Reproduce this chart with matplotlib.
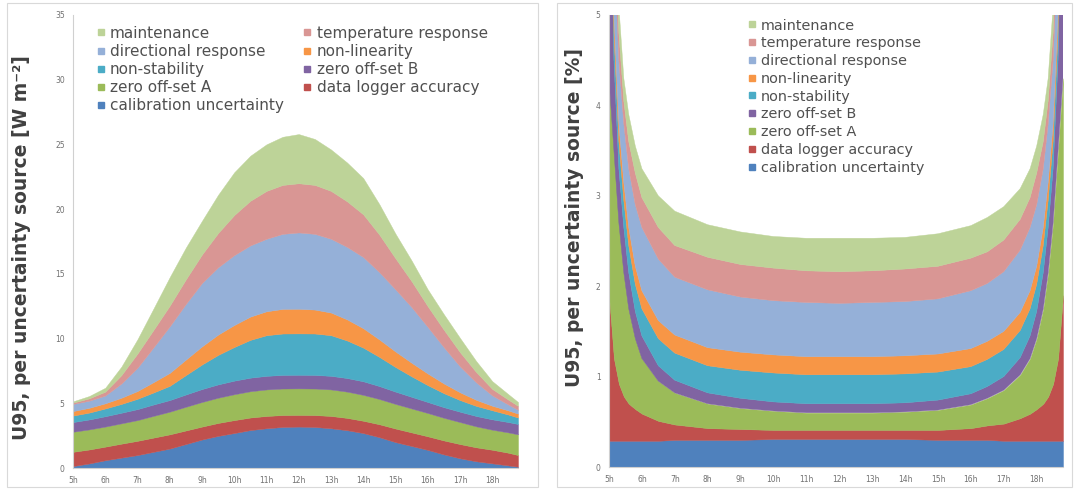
import matplotlib
matplotlib.use("Agg")
import matplotlib.pyplot as plt
from matplotlib.lines import Line2D
from matplotlib.patches import Rectangle

#--------------------------------------------------------------------------------------------------------
# data: stacked layer thickness per uncertainty source

sources = ['calibration uncertainty', 'data logger accuracy', 'zero off-set A', 'zero off-set B',
           'non-stability', 'non-linearity', 'directional response', 'temperature response', 'maintenance']
colors = ['#4F81BD', '#C0504D', '#9BBB59', '#8064A2', '#4BACC6', '#F79646', '#95B0D8', '#D99694', '#BDD398']

hour_labels = ['5h', '6h', '7h', '8h', '9h', '10h', '11h', '12h', '13h', '14h', '15h', '16h', '17h', '18h']

# left panel: W m-2 (every half hour)
hours_abs = [5, 5.5, 6, 6.5, 7, 7.5, 8, 8.5, 9, 9.5, 10, 10.5, 11, 11.5, 12, 12.5, 13, 13.5,
             14, 14.5, 15, 15.5, 16, 16.5, 17, 17.5, 18, 18.5, 18.8]
abs_calib = [0.15, 0.35, 0.6, 0.8, 1.0, 1.25, 1.5, 1.85, 2.2, 2.48, 2.7, 2.93, 3.07, 3.17, 3.2, 3.17, 3.07, 2.92,
             2.7, 2.38, 2.0, 1.7, 1.4, 1.05, 0.75, 0.52, 0.36, 0.2, 0.1]
abs_logger = [1.1, 1.08, 1.05, 1.08, 1.1, 1.1, 1.1, 1.05, 1.0, 1.0, 1.0, 0.97, 0.95, 0.92, 0.9, 0.92, 0.95, 0.95,
              0.95, 1.0, 1.05, 1.05, 1.05, 1.08, 1.1, 1.08, 1.05, 0.98, 0.9]
abs_zeroA = [1.55, 1.55, 1.55, 1.57, 1.6, 1.68, 1.75, 1.83, 1.9, 1.95, 2.0, 2.03, 2.05, 2.05, 2.05, 2.05, 2.05, 2.03,
             2.0, 1.95, 1.9, 1.85, 1.8, 1.75, 1.7, 1.62, 1.55, 1.57, 1.6]
abs_zeroB = [0.75, 0.77, 0.8, 0.82, 0.85, 0.88, 0.9, 0.95, 1.0, 1.03, 1.05, 1.05, 1.05, 1.05, 1.05, 1.05, 1.05, 1.05,
             1.05, 1.0, 0.95, 0.9, 0.85, 0.82, 0.8, 0.8, 0.8, 0.8, 0.8]
abs_nonstab = [0.5, 0.53, 0.6, 0.68, 0.8, 0.93, 1.1, 1.5, 1.9, 2.28, 2.6, 2.92, 3.14, 3.2, 3.2, 3.2, 3.14, 2.9,
               2.6, 2.25, 1.9, 1.58, 1.3, 1.08, 0.9, 0.78, 0.7, 0.58, 0.5]
abs_nonlin = [0.35, 0.37, 0.4, 0.48, 0.6, 0.8, 1.0, 1.2, 1.4, 1.57, 1.7, 1.8, 1.85, 1.9, 1.9, 1.85, 1.75, 1.63,
              1.5, 1.35, 1.2, 1.05, 0.9, 0.75, 0.6, 0.47, 0.35, 0.32, 0.3]
abs_dir = [0.55, 0.55, 0.6, 1.1, 1.8, 2.7, 3.6, 4.3, 4.9, 5.2, 5.4, 5.5, 5.6, 5.8, 5.9, 5.85, 5.7, 5.6,
           5.5, 5.2, 4.8, 4.3, 3.6, 2.8, 2.0, 1.35, 0.8, 0.45, 0.3]
abs_temp = [0.1, 0.18, 0.3, 0.65, 1.1, 1.35, 1.6, 1.9, 2.2, 2.65, 3.1, 3.45, 3.7, 3.78, 3.8, 3.78, 3.7, 3.52,
            3.3, 2.9, 2.4, 2.0, 1.6, 1.35, 1.1, 0.8, 0.5, 0.38, 0.3]
abs_maint = [0.1, 0.18, 0.3, 0.65, 1.1, 1.65, 2.2, 2.45, 2.6, 2.95, 3.3, 3.48, 3.6, 3.72, 3.8, 3.55, 3.2, 3.0,
             2.8, 2.35, 1.9, 1.6, 1.3, 1.2, 1.1, 0.85, 0.6, 0.42, 0.3]

# right panel: % (denser near sunrise and sunset)
hours_rel = [5.0, 5.15, 5.3, 5.45, 5.6, 5.8, 6.0, 6.5, 7, 8, 9, 10, 11, 12,
             13, 14, 15, 16, 16.5, 17, 17.5, 17.8, 18.0, 18.2, 18.35, 18.5, 18.65, 18.8]
rel_calib = [0.29, 0.29, 0.29, 0.29, 0.29, 0.29, 0.29, 0.29, 0.30, 0.30, 0.30, 0.31, 0.31, 0.31,
             0.31, 0.31, 0.30, 0.30, 0.30, 0.29, 0.29, 0.29, 0.29, 0.29, 0.29, 0.29, 0.29, 0.29]
rel_logger = [1.61, 0.91, 0.63, 0.49, 0.41, 0.35, 0.30, 0.22, 0.17, 0.13, 0.12, 0.10, 0.10, 0.10,
              0.10, 0.10, 0.11, 0.13, 0.16, 0.19, 0.25, 0.30, 0.35, 0.41, 0.49, 0.63, 0.91, 1.61]
rel_zeroA = [2.4, 2.3, 1.78, 1.37, 1.05, 0.78, 0.61, 0.44, 0.35, 0.27, 0.23, 0.21, 0.19, 0.19,
             0.19, 0.20, 0.22, 0.26, 0.30, 0.37, 0.48, 0.61, 0.78, 1.05, 1.37, 1.78, 2.3, 2.4]
rel_zeroB = [3.0, 1.0, 0.6, 0.5, 0.4, 0.3, 0.25, 0.17, 0.14, 0.12, 0.11, 0.10, 0.10, 0.10,
             0.10, 0.10, 0.11, 0.12, 0.13, 0.15, 0.19, 0.25, 0.3, 0.4, 0.5, 0.6, 1.0, 3.0]
rel_nonstab = [0.4, 0.3, 0.3, 0.3, 0.3, 0.3, 0.3, 0.3, 0.3, 0.3, 0.31, 0.32, 0.32, 0.32,
               0.32, 0.32, 0.31, 0.30, 0.30, 0.30, 0.30, 0.3, 0.3, 0.3, 0.3, 0.3, 0.3, 0.4]
rel_nonlin = [0.3, 0.2, 0.2, 0.2, 0.2, 0.2, 0.2, 0.2, 0.2, 0.2, 0.2, 0.2, 0.2, 0.2,
              0.2, 0.2, 0.2, 0.2, 0.2, 0.2, 0.2, 0.2, 0.2, 0.2, 0.2, 0.2, 0.2, 0.3]
rel_dir = [1.0, 0.8, 0.7, 0.65, 0.65, 0.68, 0.7, 0.68, 0.64, 0.64, 0.61, 0.60, 0.60, 0.59,
           0.60, 0.60, 0.61, 0.64, 0.64, 0.66, 0.69, 0.7, 0.68, 0.65, 0.65, 0.7, 0.8, 1.0]
rel_temp = [0.5, 0.4, 0.3, 0.25, 0.3, 0.35, 0.33, 0.35, 0.35, 0.36, 0.36, 0.36, 0.35, 0.35,
            0.35, 0.36, 0.36, 0.36, 0.35, 0.35, 0.34, 0.33, 0.35, 0.3, 0.25, 0.3, 0.4, 0.5]
rel_maint = [0.5, 0.3, 0.3, 0.25, 0.3, 0.3, 0.32, 0.35, 0.38, 0.36, 0.36, 0.35, 0.36, 0.37,
             0.36, 0.35, 0.36, 0.36, 0.38, 0.37, 0.34, 0.32, 0.3, 0.3, 0.25, 0.3, 0.3, 0.5]

#--------------------------------------------------------------------------------------------------------

def drawPanel(ax, hours, layers, ymax, ystep, ylabel, labelPos):
    ax.stackplot(hours, layers, colors=colors, linewidth=0.3, edgecolor='face')
    ax.set_xlim(5, 18.8)
    ax.set_ylim(0, ymax)
    ax.set_xticks(range(5, 19))
    ax.set_xticklabels(hour_labels)
    ax.set_yticks(range(0, ymax + 1, ystep))
    ax.tick_params(length=0, labelsize=5.5, colors='#707070', pad=6)
    for side in ['top', 'right']:
        ax.spines[side].set_visible(False)
    for side in ['left', 'bottom']:
        ax.spines[side].set_color('#d0d0d0')
        ax.spines[side].set_linewidth(0.8)
    ax.set_ylabel(ylabel, fontsize=13.5, fontweight='bold', color='#404040')
    ax.yaxis.set_label_coords(labelPos[0], labelPos[1])


fig = plt.figure(figsize=(10.74, 4.9), dpi=100)

# panel frames
fig.patches.append(Rectangle((7 / 1074, 3 / 490), 531 / 1074, 484 / 490, transform=fig.transFigure,
                             fill=False, edgecolor='#d9d9d9', linewidth=0.8))
fig.patches.append(Rectangle((557 / 1074, 3 / 490), 515 / 1074, 484 / 490, transform=fig.transFigure,
                             fill=False, edgecolor='#d9d9d9', linewidth=0.8))

axL = fig.add_axes([73 / 1074, 22 / 490, 445 / 1074, 453 / 490])
axR = fig.add_axes([609 / 1074, 23 / 490, 454 / 1074, 452 / 490])

layersAbs = [abs_calib, abs_logger, abs_zeroA, abs_zeroB, abs_nonstab, abs_nonlin, abs_dir, abs_temp, abs_maint]
layersRel = [rel_calib, rel_logger, rel_zeroA, rel_zeroB, rel_nonstab, rel_nonlin, rel_dir, rel_temp, rel_maint]

drawPanel(axL, hours_abs, layersAbs, 35, 5, 'U95, per uncertainty source [W m⁻²]', (-0.094, 0.486))
drawPanel(axR, hours_rel, layersRel, 5, 1, 'U95, per uncertainty source [%]', (-0.056, 0.553))

handles = [Line2D([], [], marker='s', markersize=4, linestyle='none', color=c) for c in colors]

# left legend: two columns, read row by row from the top of the stack
orderL = [8, 6, 4, 2, 0, 7, 5, 3, 1]
axL.legend([handles[i] for i in orderL], [sources[i] for i in orderL], ncol=2, loc='upper left',
           bbox_to_anchor=(0.04, 0.99), frameon=False, fontsize=11, labelcolor='#505050',
           handlelength=0.5, handletextpad=0.35, labelspacing=0.21, columnspacing=1.3, borderaxespad=0)

orderR = [8, 7, 6, 5, 4, 3, 2, 1, 0]
axR.legend([handles[i] for i in orderR], [sources[i] for i in orderR], loc='upper left',
           bbox_to_anchor=(0.294, 1.005), frameon=False, fontsize=10.4, labelcolor='#505050',
           handlelength=0.5, handletextpad=0.35, labelspacing=0.26, borderaxespad=0)

plt.savefig('out.png', dpi=100)
